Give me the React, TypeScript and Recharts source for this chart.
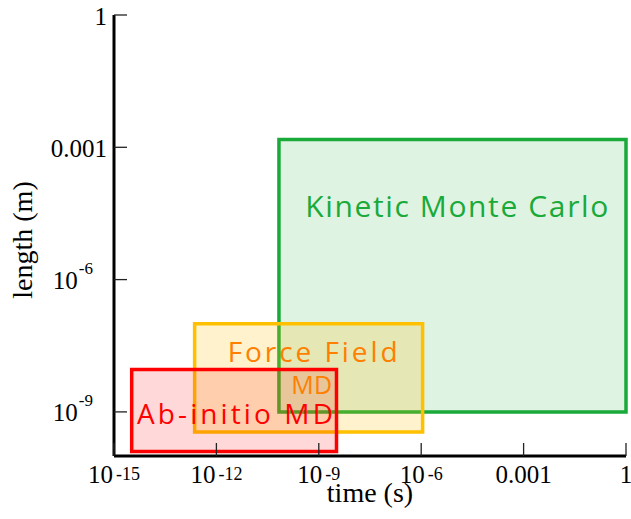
import React from "react";
import {
  ScatterChart,
  Scatter,
  XAxis,
  YAxis,
  ReferenceArea,
} from "recharts";

// Rectangles: time range (s) and length range (m) of each method
const methods = ["Kinetic Monte Carlo", "Force Field MD", "Ab-initio MD"];
const timeMin = [6.8e-11, 2.3e-13, 3.3e-15];
const timeMax = [1, 1.1e-6, 3.3e-9];
const lengthMin = [1e-9, 3.5e-10, 1.26e-10];
const lengthMax = [1.5e-3, 1e-7, 9.1e-9];

// Text labels placed in data space
const labelText = ["Kinetic Monte Carlo", "Force Field", "MD", "Ab-initio MD"];
const labelTime = [1.1e-5, 6.6e-10, 6.2e-10, 3.5e-12];
const labelLength = [4.7e-5, 2.3e-8, 4.1e-9, 8.9e-10];

// Ticks
const xTicks = [1e-15, 1e-12, 1e-9, 1e-6, 1e-3, 1];
const xTickLabels = ["10^-15", "10^-12", "10^-9", "10^-6", "0.001", "1"];
const yTicks = [1e-9, 1e-6, 1e-3, 1];
const yTickLabels = ["10^-9", "10^-6", "0.001", "1"];

const areaStyle = [
  { color: "#19aa3a", opacity: 0.14 },
  { color: "#ffc000", opacity: 0.2 },
  { color: "#ff0000", opacity: 0.15 },
];
const labelStyle = [
  { color: "#19aa3a", size: 30, width: 303 },
  { color: "#ff7f00", size: 28, width: 170 },
  { color: "#ff7f00", size: 25, width: 41 },
  { color: "#ff0000", size: 28, width: 196 },
];

const serif = "'Liberation Serif', 'Times New Roman', serif";
const hand = "'Open Sans', 'DejaVu Sans', sans-serif";

const labelData = labelText.map((t, i) => ({
  x: labelTime[i],
  y: labelLength[i],
  text: t,
  idx: i,
}));

const XTick = (props: any) => {
  const { x, y, payload } = props;
  const i = xTicks.indexOf(payload.value);
  const lbl = xTickLabels[i] ?? "";
  const [base, exp] = lbl.split("^");
  return (
    <g>
      <line x1={x} y1={y} x2={x} y2={y - 13} stroke="#222" strokeWidth={1.3} />
      <text x={x} y={y + 26.5} textAnchor="middle" fontFamily={serif} fontSize={25} fill="#000">
        {base}
        {exp && (
          <tspan dx={3} dy={-3} fontSize={18}>
            {exp}
          </tspan>
        )}
      </text>
    </g>
  );
};

const YTick = (props: any) => {
  const { x, y, payload } = props;
  const i = yTicks.indexOf(payload.value);
  const lbl = yTickLabels[i] ?? "";
  const [base, exp] = lbl.split("^");
  return (
    <g>
      <line x1={x} y1={y} x2={x + 13} y2={y} stroke="#222" strokeWidth={1.3} />
      <text
        x={exp ? x - 21 : x - 7}
        y={y + 9.5}
        textAnchor="end"
        fontFamily={serif}
        fontSize={25}
        fill="#000"
      >
        {base}
        {exp && (
          <tspan dx={1} dy={-15} fontSize={17}>
            {exp}
          </tspan>
        )}
      </text>
    </g>
  );
};

const LabelShape = (props: any) => {
  const { cx, cy, payload } = props;
  const s = labelStyle[payload.idx];
  return (
    <text
      x={cx}
      y={cy + s.size * 0.36}
      textAnchor="middle"
      fontFamily={hand}
      fontSize={s.size}
      fill={s.color}
      textLength={s.width}
      lengthAdjust="spacing"
    >
      {payload.text}
    </text>
  );
};

const YLabel = () => (
  <text
    x={32}
    y={240}
    transform="rotate(-90 32 240)"
    textAnchor="middle"
    fontFamily={serif}
    fontSize={28}
    fill="#000"
  >
    length (m)
  </text>
);

export default function App() {
  return (
    <div style={{ width: 631, height: 519 }}>
      <style>{`html, body { margin: 0; overflow: hidden; }`}</style>
      <ScatterChart
        width={631}
        height={519}
        margin={{ top: 15, right: 5, left: 0, bottom: 0 }}
      >
        <XAxis
          type="number"
          dataKey="x"
          scale="log"
          domain={[1e-15, 1]}
          ticks={xTicks}
          tick={<XTick />}
          tickSize={0}
          tickMargin={0}
          height={63}
          allowDataOverflow
          axisLine={{ stroke: "#000", strokeWidth: 3 }}
          label={{
            value: "time (s)",
            position: "insideBottom",
            offset: 17,
            fontFamily: serif,
            fontSize: 28,
            fill: "#000",
          }}
        />
        <YAxis
          type="number"
          dataKey="y"
          scale="log"
          domain={[1e-10, 1]}
          ticks={yTicks}
          tick={<YTick />}
          tickSize={0}
          tickMargin={0}
          width={114}
          allowDataOverflow
          axisLine={{ stroke: "#000", strokeWidth: 3 }}
          label={{ content: <YLabel /> }}
        />
        {methods.map((m, i) => (
          <ReferenceArea
            key={m}
            x1={timeMin[i]}
            x2={timeMax[i]}
            y1={lengthMin[i]}
            y2={lengthMax[i]}
            fill={areaStyle[i].color}
            fillOpacity={areaStyle[i].opacity}
            stroke={areaStyle[i].color}
            strokeWidth={3.5}
            strokeOpacity={1}
            ifOverflow="visible"
          />
        ))}
        <Scatter
          data={labelData}
          shape={<LabelShape />}
          isAnimationActive={false}
        />
      </ScatterChart>
    </div>
  );
}
